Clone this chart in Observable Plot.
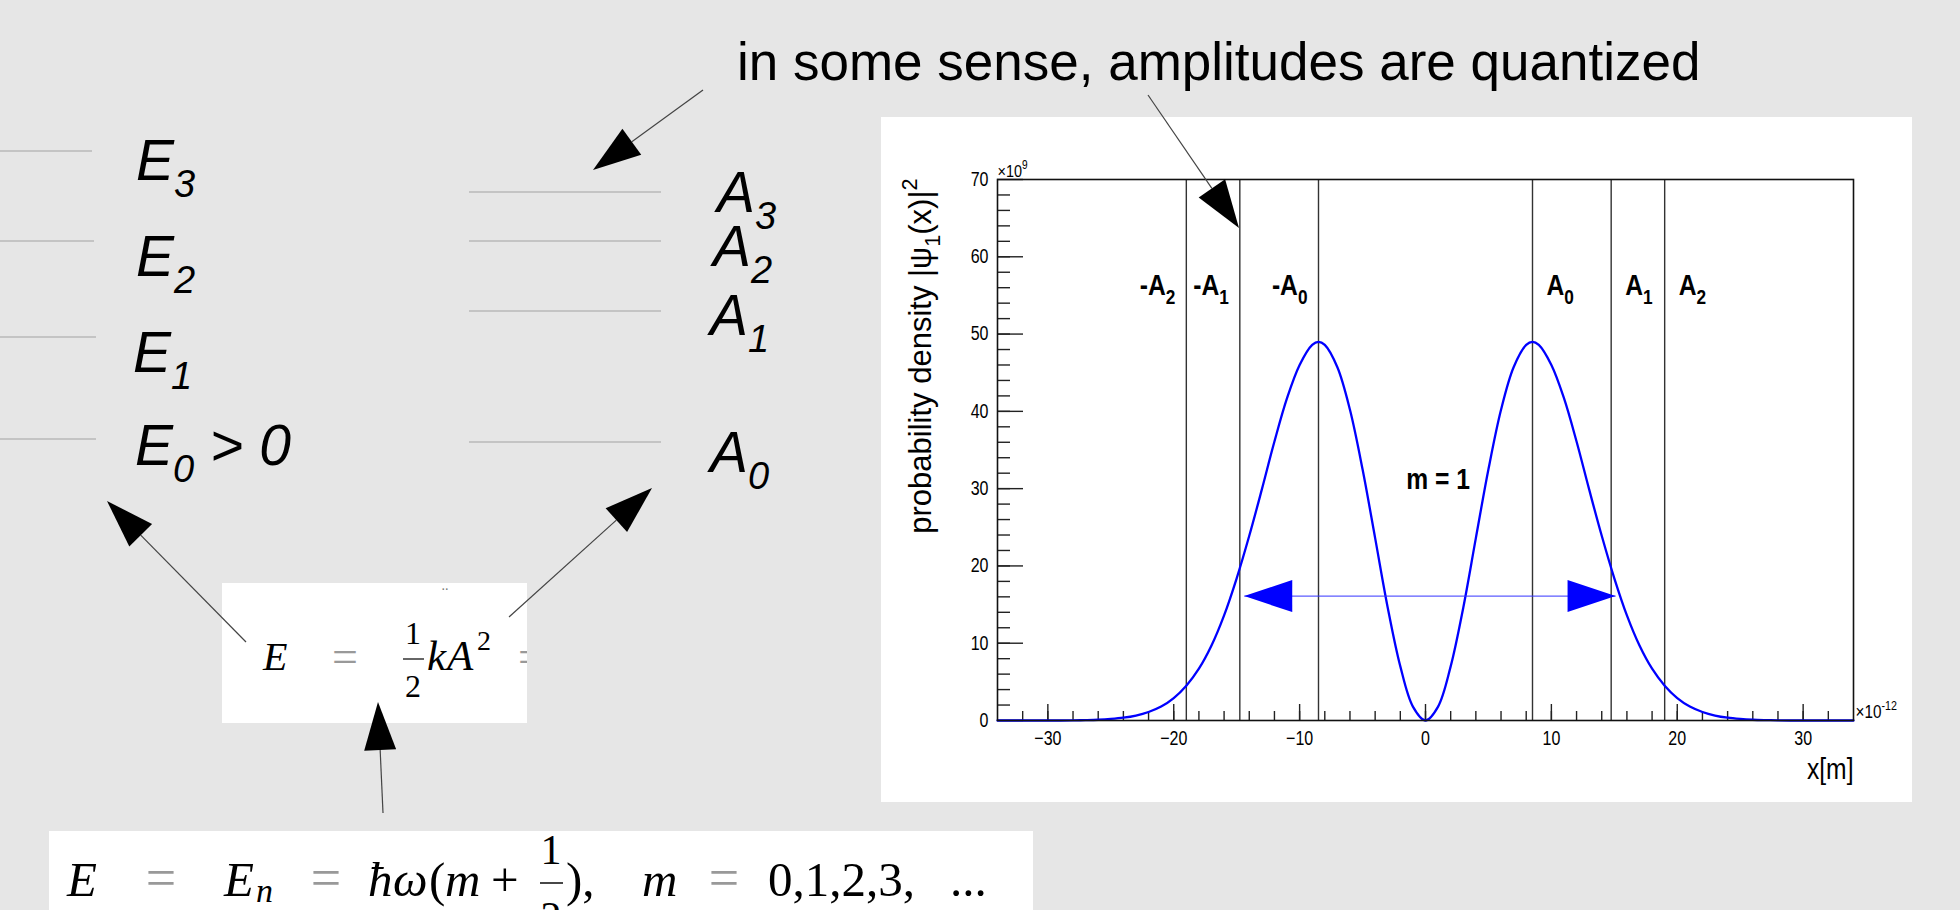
<!DOCTYPE html>
<html><head><meta charset="utf-8">
<script src="https://cdn.jsdelivr.net/npm/d3@7"></script>
<script src="https://cdn.jsdelivr.net/npm/@observablehq/plot@0.6"></script>
<style>
html,body{margin:0;padding:0;background:#e6e6e6;}
#slide{position:relative;width:1960px;height:910px;overflow:hidden;background:#e6e6e6;}
#plotbox{position:absolute;left:881px;top:117px;width:1031px;height:685px;background:#fff;}
#overlay{position:absolute;left:0;top:0;}
</style></head>
<body>
<div id="slide"><div id="plotbox"></div><svg id="overlay" width="1960" height="910"></svg></div>
<script>
// ---------------- data (x in 1e-12 m, density in 1e9) ----------------
const xPos = [-34,-33,-32,-31,-30,-29,-28,-27,-26,-25,-24,-23,-22,-21,-20,-19,-18,-17,-16,-15,-14,-13,-12,-11,-10,-9,-8.5,-8,-7,-6,-5,-4,-3,-2,-1,0,1,2,3,4,5,6,7,8,8.5,9,10,11,12,13,14,15,16,17,18,19,20,21,22,23,24,25,26,27,28,29,30,31,32,33,34];
const density = [0,0,0,0,0,0,0.02,0.05,0.1,0.2,0.36,0.64,1.1,1.8,2.9,4.5,6.7,9.7,13.6,18.4,23.9,29.9,36.1,41.7,46.0,48.6,49.0,48.6,45.7,40.2,32.5,23.6,14.6,7.0,1.8,0,1.8,7.0,14.6,23.6,32.5,40.2,45.7,48.6,49.0,48.6,46.0,41.7,36.1,29.9,23.9,18.4,13.6,9.7,6.7,4.5,2.9,1.8,1.1,0.64,0.36,0.2,0.1,0.05,0.02,0,0,0,0,0,0];
const ampNames = ["-A_2","-A_1","-A_0","A_0","A_1","A_2"];
const ampValues = [-19.0,-14.75,-8.5,8.5,14.75,19.0];
const xTickLabels = [-30,-20,-10,0,10,20,30];
const yTickLabels = [0,10,20,30,40,50,60,70];
const xMinorTicks = d3.range(-32, 33, 2);
const yMinorTicks = d3.range(2, 70, 2);
const spanArrowX = [-14.4, 15.1];   // tips of the blue double arrow
const spanArrowLevel = 16.1;
const stateLabel = ["m = 1"];
const energyLabels = ["E_3","E_2","E_1","E_0 > 0"];
const amplitudeLabels = ["A_3","A_2","A_1","A_0"];
const titleText = "in some sense, amplitudes are quantized";
const yTitle = "probability density |ψ_1(x)|^2";
const xTitle = "x[m]";

// ---------------- helpers ----------------
function rich(el, F, scale, subShift, supShift) {
  const s = el.textContent;
  if (!/[_^]/.test(s)) return;
  if (F == null) F = parseFloat(getComputedStyle(el).fontSize) || 16;
  scale = scale ?? 0.7; subShift = subShift ?? 0.3 * F; supShift = supShift ?? 0.42 * F;
  const tokens = []; let buf = "", i = 0;
  while (i < s.length) {
    const c = s[i];
    if ((c === "_" || c === "^") && i + 1 < s.length) {
      if (buf) { tokens.push({t: buf, k: 0}); buf = ""; }
      let content;
      if (s[i + 1] === "{") { const j = s.indexOf("}", i + 2); content = s.slice(i + 2, j); i = j + 1; }
      else { content = s[i + 1]; i += 2; }
      tokens.push({t: content, k: c === "_" ? 1 : -1});
    } else { buf += c; i++; }
  }
  if (buf) tokens.push({t: buf, k: 0});
  el.textContent = "";
  let cur = 0;
  for (const tk of tokens) {
    const off = tk.k === 1 ? subShift : tk.k === -1 ? -supShift : 0;
    const ts = document.createElementNS("http://www.w3.org/2000/svg", "tspan");
    ts.setAttribute("dy", off - cur);
    ts.setAttribute("font-size", (tk.k ? F * scale : F) + "px");
    ts.textContent = tk.t;
    el.appendChild(ts);
    cur = off;
  }
}
// horizontally condense a text element about its own anchor (ROOT-like narrow glyphs)
function condense(el, s) {
  const x = +el.getAttribute("x") || 0, y = +el.getAttribute("y") || 0;
  const tr = el.getAttribute("transform") || "";
  el.setAttribute("transform", `${tr} translate(${x},${y}) scale(${s},1) translate(${-x},${-y})`);
}

// ---------------- chart ----------------
const W = 1031, H = 685, mL = 116, mR = 59, mT = 62, mB = 82;
const plotW = W - mL - mR, plotH = H - mT - mB;
const ROOTFONT = "'Liberation Sans',Arial,Helvetica,sans-serif";
const curveData = xPos.map((x, i) => ({x, y: density[i]}));
const ampData = ampNames.map((name, i) => ({name, x: ampValues[i]}));
const headRight = {draw(ctx) { ctx.moveTo(0, 0); ctx.lineTo(-48, -16); ctx.lineTo(-48, 16); ctx.closePath(); }};
const tips = spanArrowX.map(x => ({x, y: spanArrowLevel, rot: x < 0 ? 180 : 0}));

const chart = Plot.plot({
  width: W, height: H, marginLeft: mL, marginRight: mR, marginTop: mT, marginBottom: mB,
  x: {domain: [-34, 34]},
  y: {domain: [0, 70]},
  style: {background: "white", color: "black", fontFamily: ROOTFONT, overflow: "visible"},
  marks: [
    Plot.ruleX(ampData, {x: "x", stroke: "#333", strokeWidth: 1.4}),
    Plot.ruleX(xMinorTicks, {x: d => d, insetTop: plotH - 9, stroke: "#222", strokeWidth: 1.4}),
    Plot.ruleX(xTickLabels, {x: d => d, insetTop: plotH - 16, stroke: "#222", strokeWidth: 1.4}),
    Plot.ruleY(yMinorTicks, {y: d => d, insetRight: plotW - 13, stroke: "#222", strokeWidth: 1.4}),
    Plot.ruleY(yTickLabels, {y: d => d, insetRight: plotW - 26, stroke: "#222", strokeWidth: 1.4}),
    Plot.line(curveData, {x: "x", y: "y", stroke: "#0000ff", strokeWidth: 2.3, curve: "catmull-rom"}),
    Plot.link([spanArrowX], {x1: d => d[0], x2: d => d[1], y1: spanArrowLevel, y2: spanArrowLevel, stroke: "#3333ff", strokeWidth: 1.2, strokeOpacity: 0.8}),
    Plot.dot(tips, {x: "x", y: "y", rotate: "rot", symbol: headRight, r: 5, fill: "#0000ff", stroke: "none"}),
    Plot.frame({stroke: "#111", strokeWidth: 1.6}),
    Plot.axisX({ticks: xTickLabels, tickSize: 0, tickPadding: 10, fontSize: 20, label: null, className: "cx", stroke: "#000", strokeWidth: 0.3}),
    Plot.axisY({ticks: yTickLabels, tickSize: 0, tickPadding: 9, fontSize: 20, label: null, className: "cx", stroke: "#000", strokeWidth: 0.3}),
    Plot.text(ampData.filter(d => d.x < 0), {x: "x", y: 55, text: "name", textAnchor: "end", lineAnchor: "bottom", dx: -11, fontSize: 29, fontWeight: "bold", className: "cb"}),
    Plot.text(ampData.filter(d => d.x > 0), {x: "x", y: 55, text: "name", textAnchor: "start", lineAnchor: "bottom", dx: 14, fontSize: 29, fontWeight: "bold", className: "cb"}),
    Plot.text(stateLabel, {x: 1, y: 30, text: d => d, textAnchor: "middle", lineAnchor: "bottom", fontSize: 29, fontWeight: "bold", className: "cb"}),
    Plot.text(["×10^9"], {frameAnchor: "top-left", textAnchor: "start", lineAnchor: "bottom", dy: -3, fontSize: 17, className: "cb"}),
    Plot.text(["×10^{-12}"], {frameAnchor: "bottom-right", textAnchor: "start", lineAnchor: "bottom", dx: 2, dy: -3, fontSize: 18, className: "cb"}),
    Plot.text([xTitle], {frameAnchor: "bottom-right", textAnchor: "end", lineAnchor: "bottom", dy: 58, fontSize: 29, className: "cb"}),
    Plot.text([yTitle], {frameAnchor: "top-left", rotate: -90, textAnchor: "end", lineAnchor: "bottom", dx: -67, dy: -1, fontSize: 31})
  ]
});
document.getElementById("plotbox").appendChild(chart);
chart.querySelectorAll("text").forEach(t => rich(t));
chart.querySelectorAll(".cx text").forEach(t => condense(t, 0.8));
chart.querySelectorAll(".cb text").forEach(t => condense(t, 0.85));

// ---------------- slide decorations ----------------
const svg = d3.select("#overlay");
const SANS = "'Liberation Sans',Arial,sans-serif";
const SERIF = "'Liberation Serif','Times New Roman',serif";

// white formula boxes
svg.append("rect").attr("x", 222).attr("y", 583).attr("width", 305).attr("height", 140).attr("fill", "#fff");
svg.append("rect").attr("x", 49).attr("y", 831).attr("width", 984).attr("height", 90).attr("fill", "#fff");

// title
svg.append("text").attr("x", 737).attr("y", 80).attr("font-family", SANS).attr("font-size", 53).attr("fill", "#000").text(titleText);

// level lines
const levelColor = "#b8b8b8";
[[0, 92, 151], [0, 94, 241], [0, 96, 337], [0, 96, 439], [469, 661, 192], [469, 661, 241], [469, 661, 311], [469, 661, 442]]
  .forEach(([a, b, y]) => svg.append("line").attr("x1", a).attr("x2", b).attr("y1", y).attr("y2", y).attr("stroke", levelColor).attr("stroke-width", 1.5));

// energy / amplitude labels
const ePos = [[136, 180], [136, 276], [133, 372], [135, 465]];
const aPos = [[717, 212], [713, 266], [710, 335], [710, 472]];
energyLabels.forEach((s, i) => {
  const t = svg.append("text").attr("x", ePos[i][0]).attr("y", ePos[i][1]).attr("font-family", SANS).attr("font-style", "italic").attr("font-size", 57).text(s);
  rich(t.node(), 57, 0.667, 17, 0);
});
amplitudeLabels.forEach((s, i) => {
  const t = svg.append("text").attr("x", aPos[i][0]).attr("y", aPos[i][1]).attr("font-family", SANS).attr("font-style", "italic").attr("font-size", 57).text(s);
  rich(t.node(), 57, 0.667, 17, 0);
});

// formula box 1 : E = 1/2 k A^2 =
const clip = svg.append("clipPath").attr("id", "box1clip");
clip.append("rect").attr("x", 222).attr("y", 583).attr("width", 305).attr("height", 140);
const f1 = svg.append("g").attr("clip-path", "url(#box1clip)").attr("font-family", SERIF);
f1.append("text").attr("x", 263).attr("y", 670).attr("font-size", 40).attr("font-style", "italic").text("E");
f1.append("text").attr("x", 345).attr("y", 672).attr("font-size", 46).attr("fill", "#999").attr("text-anchor", "middle").text("=");
f1.append("text").attr("x", 413).attr("y", 644).attr("font-size", 32).attr("text-anchor", "middle").text("1");
f1.append("line").attr("x1", 403).attr("x2", 424).attr("y1", 659).attr("y2", 659).attr("stroke", "#333").attr("stroke-width", 1.5);
f1.append("text").attr("x", 413).attr("y", 697).attr("font-size", 32).attr("text-anchor", "middle").text("2");
f1.append("text").attr("x", 427).attr("y", 670).attr("font-size", 43).attr("font-style", "italic").text("k");
f1.append("text").attr("x", 447).attr("y", 670).attr("font-size", 43).attr("font-style", "italic").text("A");
f1.append("text").attr("x", 477).attr("y", 650).attr("font-size", 28).text("2");
f1.append("text").attr("x", 531).attr("y", 672).attr("font-size", 46).attr("fill", "#999").attr("text-anchor", "middle").text("=");
f1.append("text").attr("x", 445).attr("y", 590).attr("font-size", 14).attr("fill", "#777").attr("text-anchor", "middle").text("..");

// bottom formula : E = E_n = ħω(m + 1/2),  m = 0,1,2,3, ...
const f2 = svg.append("g").attr("font-family", SERIF).attr("font-size", 49);
const BL = 896;
const tok = (x, s, it, extra) => { const t = f2.append("text").attr("x", x).attr("y", BL).text(s); if (it) t.attr("font-style", "italic"); if (extra) extra(t); return t; };
const eq = x => f2.append("text").attr("x", x).attr("y", BL).attr("font-size", 54).attr("fill", "#999").attr("text-anchor", "middle").text("=");
tok(67, "E", true);
eq(161);
tok(224, "E", true);
tok(256, "n", true, t => t.attr("y", BL + 6).attr("font-size", 34));
eq(326);
tok(368, "ħ", true); tok(393, "ω", true); tok(429, "(", false); tok(445, "m", true); tok(491, "+", false);
tok(551, "1", false, t => t.attr("y", 864).attr("font-size", 42).attr("text-anchor", "middle"));
f2.append("line").attr("x1", 540).attr("x2", 563).attr("y1", 883).attr("y2", 883).attr("stroke", "#333").attr("stroke-width", 1.8);
tok(551, "2", false, t => t.attr("y", 931).attr("font-size", 42).attr("text-anchor", "middle"));
tok(566, "),", false);
tok(642, "m", true);
eq(724);
tok(768, "0,1,2,3,", false);
tok(950, "...", false);

// arrows
function arrow(x1, y1, x2, y2) {
  const L = 48, Wd = 16;
  const dx = x2 - x1, dy = y2 - y1, len = Math.hypot(dx, dy), ux = dx / len, uy = dy / len;
  const bx = x2 - ux * L, by = y2 - uy * L;
  svg.append("line").attr("x1", x1).attr("y1", y1).attr("x2", bx).attr("y2", by).attr("stroke", "#444").attr("stroke-width", 1.2);
  svg.append("path").attr("d", `M${x2},${y2}L${bx - uy * Wd},${by + ux * Wd}L${bx + uy * Wd},${by - ux * Wd}Z`).attr("fill", "#000");
}
arrow(703, 90, 593, 170);
arrow(1148, 95, 1239, 228);
arrow(246, 642, 107, 501);
arrow(509, 617, 652, 488);
arrow(383, 813, 378, 702);
</script>
</body></html>
